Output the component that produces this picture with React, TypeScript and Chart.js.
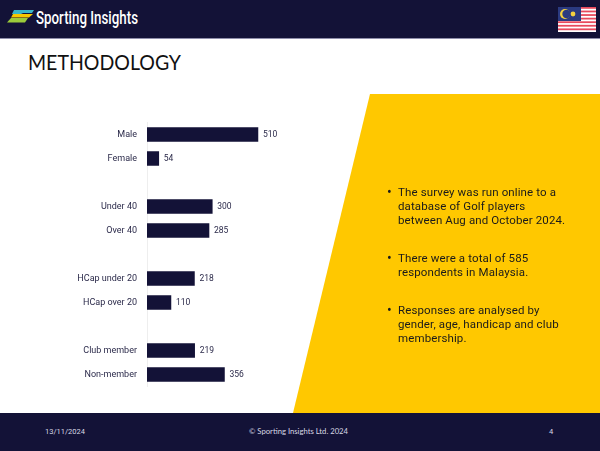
import React, { useEffect, useRef } from "react";
import { Chart, registerables } from "chart.js";

Chart.register(...registerables);

const categories = ["Male", "Female", "", "Under 40", "Over 40", "", "HCap under 20", "HCap over 20", "", "Club member", "Non-member"];
const respondents = [510, 54, null, 300, 285, null, 218, 110, null, 219, 356];
const bullets = [
  ["The survey was run online to a", "database of Golf players", "between Aug and October 2024."],
  ["There were a total of 585", "respondents in Malaysia."],
  ["Responses are analysed by", "gender, age, handicap and club", "membership."],
];

const NAVY = "#131237";
const YELLOW = "#FFC800";
const FONT = "Roboto, sans-serif";

const valueLabels = {
  id: "valueLabels",
  afterDatasetsDraw(chart: any) {
    const { ctx } = chart;
    const meta = chart.getDatasetMeta(0);
    ctx.save();
    ctx.font = `400 8.5px ${FONT}`;
    ctx.fillStyle = "#2b2a4a";
    ctx.textAlign = "left";
    ctx.textBaseline = "middle";
    meta.data.forEach((bar: any, i: number) => {
      const v = respondents[i];
      if (v == null) return;
      ctx.fillText(String(v), bar.x + 5, bar.y + 0.5);
    });
    ctx.restore();
  },
};

export default function App() {
  const ref = useRef<HTMLCanvasElement>(null);
  useEffect(() => {
    document.body.style.margin = "0";
    const chart = new Chart(ref.current!, {
      type: "bar",
      data: {
        labels: categories,
        datasets: [{ data: respondents as any, backgroundColor: NAVY, barThickness: 14, borderWidth: 0 }],
      },
      options: {
        indexAxis: "y",
        animation: false,
        responsive: false,
        layout: { padding: { top: 122.5, bottom: 64.5, left: 0, right: 322.5 } },
        plugins: { legend: { display: false }, tooltip: { enabled: false } },
        scales: {
          x: { display: false, min: 0, max: 600 },
          y: {
            afterFit(scale: any) { scale.width = 147; },
            grid: { drawOnChartArea: false, drawTicks: false, color: "#eeeeee" },
            border: { color: "#eeeeee", width: 1 },
            ticks: { autoSkip: false, padding: 10, color: "#2b2a4a", font: { family: FONT, size: 9, weight: 400 } },
          },
        },
      },
      plugins: [valueLabels],
    } as any);
    return () => chart.destroy();
  }, []);

  return (
    <div style={{ position: "relative", width: 600, height: 451, background: "#fff", overflow: "hidden", fontFamily: FONT }}>
      <svg width={600} height={451} style={{ position: "absolute", left: 0, top: 0 }}>
        <polygon points="370,94 600,94 600,413 293,413" fill={YELLOW} />
        <rect x={0} y={0} width={600} height={38} fill={NAVY} />
        <rect x={0} y={38} width={600} height={1} fill="#8f8eaa" />
        <rect x={0} y={413} width={600} height={38} fill={NAVY} />
        <polygon points="14,10 34,10 32,13 23,13 21,14 12,14" fill="#38b6c9" />
        <polygon points="13,14 33,14 29,17.5 11,17.5" fill="#f6c800" />
        <polygon points="11,18 28,18 25,22.5 7,22.5" fill="#9ccb3b" />
        <text x={36} y={24} fill="#fff" fontFamily="Roboto, sans-serif" fontWeight={500} fontSize={18} textLength={102} lengthAdjust="spacingAndGlyphs">Sporting Insights</text>
        <rect x={558} y={7} width={38} height={25} fill="#fff" />
        {[0, 2, 4, 6, 8, 10, 12].map((i) => (
          <rect key={i} x={558} y={7 + (i * 25) / 14} width={38} height={25 / 14} fill="#e8495c" />
        ))}
        <rect x={558} y={7} width={23} height={14} fill="#2b3a80" />
        <circle cx={565} cy={14} r={5} fill="#f4d03f" />
        <circle cx={566.5} cy={14} r={4.2} fill="#2b3a80" />
        <circle cx={573} cy={14} r={2.4} fill="#f4d03f" />
        <text x={28} y={70} fill="#111" fontFamily="Lato, sans-serif" fontSize={20.5} textLength={153} lengthAdjust="spacingAndGlyphs">METHODOLOGY</text>
        <text x={45} y={434} fill="#d8d8e4" fontSize={7.5}>13/11/2024</text>
        <text x={249} y={434} fill="#d8d8e4" fontSize={7.7} fontFamily="Lato, sans-serif">© Sporting Insights Ltd. 2024</text>
        <text x={549} y={434} fill="#d8d8e4" fontSize={7.5}>4</text>
      </svg>
      <canvas ref={ref} width={600} height={451} style={{ position: "absolute", left: 0, top: 0, width: 600, height: 451 }} />
      <div style={{ position: "absolute", left: 398, top: 185, color: "#1a1a1a", fontSize: 11.5, lineHeight: "14px", fontWeight: 400, letterSpacing: 0.12, whiteSpace: "nowrap" }}>
        {bullets.map((lines, i) => (
          <div key={i} style={{ position: "relative", marginBottom: i < 2 ? 24 : 0 }}>
            <span style={{ position: "absolute", left: -11, top: 0, fontSize: 14 }}>•</span>
            {lines.map((l, j) => <div key={j}>{l}</div>)}
          </div>
        ))}
      </div>
    </div>
  );
}
